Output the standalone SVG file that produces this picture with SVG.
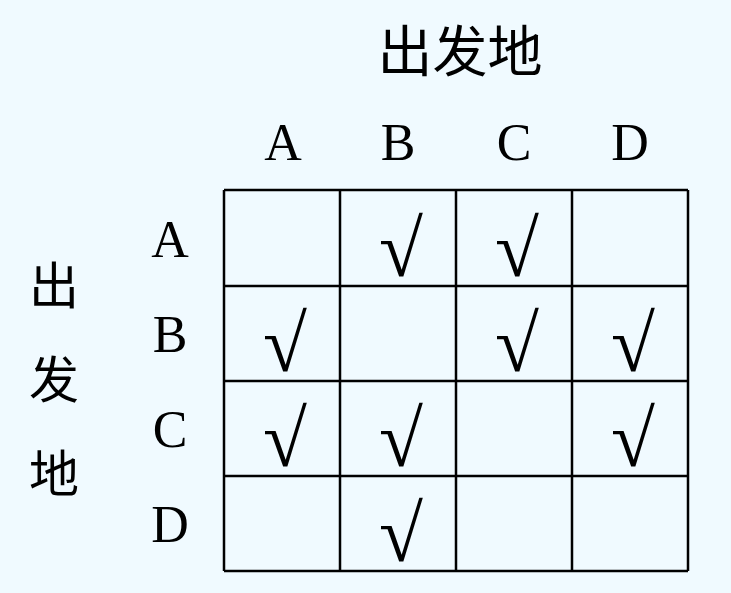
<svg xmlns="http://www.w3.org/2000/svg" width="731" height="593" viewBox="0 0 731 593">
<style>
.bg{fill:#F0FAFF}
.lat{font-family:"Liberation Serif","Times New Roman",serif;font-size:52px;fill:#000;text-anchor:middle}
.cjk{font-family:"Noto Sans CJK SC",sans-serif;font-size:50px;fill:#000;text-anchor:middle}
.ttl{font-size:55px}
.chk{font-family:"Liberation Serif","DejaVu Serif",serif;font-size:80px;fill:#000;text-anchor:middle}
.grid line{stroke:#000;stroke-width:2.5}
</style>
<rect class="bg" x="0" y="0" width="731" height="593"/>
<g id="title"><text class="cjk ttl" x="460" y="71">出发地</text></g>
<g id="side-title">
<text class="cjk" x="54" y="304">出</text>
<text class="cjk" x="54" y="398">发</text>
<text class="cjk" x="54" y="492">地</text>
</g>
<g id="col-headers">
<text class="lat" x="283" y="160">A</text>
<text class="lat" x="398" y="160">B</text>
<text class="lat" x="514" y="160">C</text>
<text class="lat" x="630" y="160">D</text>
</g>
<g id="row-headers">
<text class="lat" x="170" y="257">A</text>
<text class="lat" x="170" y="352">B</text>
<text class="lat" x="170" y="447">C</text>
<text class="lat" x="170" y="542">D</text>
</g>
<g id="grid" class="grid">
<line x1="224" y1="190" x2="688" y2="190"/>
<line x1="224" y1="286" x2="688" y2="286"/>
<line x1="224" y1="381" x2="688" y2="381"/>
<line x1="224" y1="476" x2="688" y2="476"/>
<line x1="224" y1="571" x2="688" y2="571"/>
<line x1="224" y1="190" x2="224" y2="571"/>
<line x1="340" y1="190" x2="340" y2="571"/>
<line x1="456" y1="190" x2="456" y2="571"/>
<line x1="572" y1="190" x2="572" y2="571"/>
<line x1="688" y1="190" x2="688" y2="571"/>
</g>
<g id="checks">
<text class="chk" x="401" y="276">√</text>
<text class="chk" x="517" y="276">√</text>
<text class="chk" x="285" y="371">√</text>
<text class="chk" x="517" y="371">√</text>
<text class="chk" x="633" y="371">√</text>
<text class="chk" x="285" y="466">√</text>
<text class="chk" x="401" y="466">√</text>
<text class="chk" x="633" y="466">√</text>
<text class="chk" x="401" y="561">√</text>
</g>
</svg>
